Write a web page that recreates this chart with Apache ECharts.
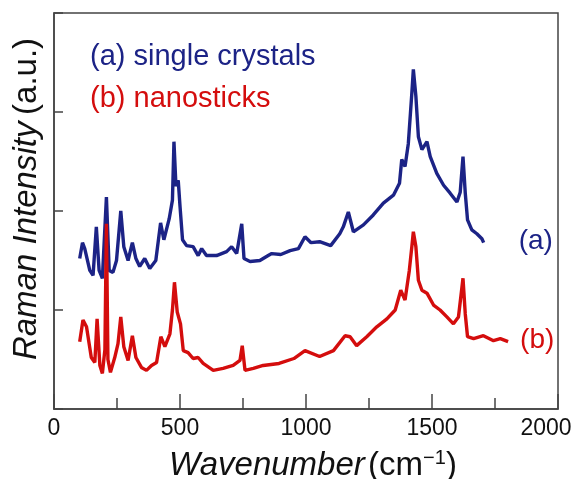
<!DOCTYPE html>
<html>
<head>
<meta charset="utf-8">
<script src="https://cdn.jsdelivr.net/npm/echarts@6/dist/echarts.min.js"></script>
<style>
html, body { margin: 0; padding: 0; background: #fff; }
#chart { width: 576px; height: 479px; }
</style>
</head>
<body>
<div id="chart"></div>
<script>
// (a) single crystals
var waveA = [102, 113, 122, 142, 155, 168, 179, 192, 208, 219, 234, 248, 265, 277, 294, 311, 325, 340, 360, 380,
    404, 423, 436, 457, 470, 476, 484, 493, 500, 510, 526, 552, 572, 586, 605, 645, 685, 705, 725, 745,
    754, 778, 817, 850, 864, 900, 937, 970, 996, 1020, 1054, 1098, 1134, 1148, 1168, 1188, 1228, 1267, 1307, 1347,
    1371, 1380, 1393, 1406, 1420, 1426, 1436, 1446, 1460, 1480, 1493, 1519, 1546, 1572, 1599, 1612, 1623, 1632, 1641, 1658,
    1678, 1698, 1705];
var intA = [1.52, 1.68, 1.62, 1.40, 1.35, 1.84, 1.40, 1.32, 2.14, 1.40, 1.38, 1.50, 2.00, 1.64, 1.50, 1.68, 1.52, 1.44, 1.52, 1.42,
    1.50, 1.88, 1.71, 1.92, 2.11, 2.70, 2.25, 2.31, 2.05, 1.71, 1.65, 1.64, 1.55, 1.62, 1.55, 1.55, 1.59, 1.64, 1.57, 1.87,
    1.52, 1.49, 1.50, 1.55, 1.57, 1.56, 1.60, 1.62, 1.74, 1.68, 1.69, 1.65, 1.77, 1.84, 1.99, 1.79, 1.86, 1.96, 2.08, 2.16,
    2.28, 2.52, 2.45, 2.68, 3.19, 3.43, 3.16, 2.75, 2.62, 2.70, 2.55, 2.38, 2.26, 2.18, 2.09, 2.19, 2.55, 2.18, 1.91, 1.81,
    1.77, 1.72, 1.68];

// (b) nanosticks
var waveB = [102, 115, 129, 148, 162, 171, 182, 192, 202, 208, 214, 224, 241, 254, 265, 277, 294, 311, 325, 347,
    367, 387, 407, 424, 440, 460, 470, 478, 489, 502, 513, 532, 552, 572, 592, 632, 671, 711, 738, 747,
    758, 791, 830, 893, 952, 996, 1054, 1109, 1155, 1175, 1201, 1241, 1281, 1321, 1354, 1376, 1393, 1410, 1420, 1426,
    1436, 1446, 1460, 1480, 1506, 1532, 1559, 1585, 1605, 1623, 1632, 1641, 1665, 1704, 1744, 1771, 1802];
var intB = [0.68, 0.90, 0.83, 0.52, 0.47, 0.91, 0.44, 0.36, 0.60, 1.87, 0.50, 0.37, 0.52, 0.66, 0.93, 0.63, 0.49, 0.74, 0.52, 0.42,
    0.39, 0.44, 0.47, 0.73, 0.63, 0.76, 1.00, 1.28, 0.98, 0.86, 0.59, 0.57, 0.51, 0.52, 0.46, 0.39, 0.41, 0.44, 0.49, 0.64,
    0.39, 0.41, 0.44, 0.46, 0.51, 0.59, 0.53, 0.59, 0.74, 0.73, 0.64, 0.73, 0.83, 0.91, 1.00, 1.20, 1.10, 1.40, 1.64, 1.79,
    1.64, 1.30, 1.20, 1.17, 1.05, 1.00, 0.93, 0.86, 0.93, 1.32, 0.96, 0.73, 0.71, 0.74, 0.69, 0.71, 0.68];

var blue = '#1c2386';
var red = '#d40d0d';

function pairs(xs, ys) {
    var out = [];
    for (var i = 0; i < xs.length; i++) {
        out.push([xs[i], ys[i]]);
    }
    return out;
}

var chart = echarts.init(document.getElementById('chart'));
chart.setOption({
    animation: false,
    grid: {
        left: 54,
        right: 18,
        top: 13,
        bottom: 70,
        outerBoundsMode: 'none',
        show: true,
        borderColor: '#444',
        borderWidth: 1.5
    },
    graphic: [
        {
            type: 'text',
            left: 90,
            top: 42,
            style: { text: '(a) single crystals', fill: blue, font: '29px "Liberation Sans", Arial, sans-serif' }
        },
        {
            type: 'text',
            left: 90,
            top: 84,
            style: { text: '(b) nanosticks', fill: red, font: '29px "Liberation Sans", Arial, sans-serif' }
        }
    ],
    xAxis: {
        type: 'value',
        min: 0,
        max: 2000,
        interval: 500,
        name: '{i|Wavenumber} {n|(cm}{s|\u22121}{n|)}',
        nameLocation: 'middle',
        nameGap: 39,
        nameTextStyle: {
            padding: [0, 0, 0, 14],
            rich: {
                i: { fontSize: 33, fontStyle: 'italic', color: '#111', fontFamily: 'Liberation Sans', lineHeight: 36 },
                n: { fontSize: 33, color: '#111', fontFamily: 'Liberation Sans', lineHeight: 36 },
                s: { fontSize: 20, color: '#111', fontFamily: 'Liberation Sans', verticalAlign: 'top', lineHeight: 36 }
            }
        },
        axisLine: { lineStyle: { color: '#444', width: 1.5 } },
        axisTick: { inside: true, length: 15, lineStyle: { color: '#444', width: 1.5 } },
        minorTick: { show: true, splitNumber: 2, length: 11, lineStyle: { color: '#444', width: 1.5 } },
        axisLabel: {
            fontSize: 23,
            color: '#111',
            fontFamily: 'Liberation Sans',
            margin: 8,
            formatter: function (v) {
                return v === 2000 ? '{m|' + v + '}' : String(v);
            },
            rich: {
                m: { fontSize: 23, color: '#111', fontFamily: 'Liberation Sans', padding: [0, 24, 0, 0] }
            }
        },
        splitLine: { show: false }
    },
    yAxis: {
        type: 'value',
        min: 0,
        max: 4,
        interval: 1,
        name: '{i|Raman Intensity}  {n|(a.u.)}',
        nameLocation: 'middle',
        nameGap: 11,
        nameTextStyle: {
            padding: [0, 0, 0, 24],
            rich: {
                i: { fontSize: 33, fontStyle: 'italic', color: '#111', fontFamily: 'Liberation Sans' },
                n: { fontSize: 33, color: '#111', fontFamily: 'Liberation Sans' }
            }
        },
        axisLine: { lineStyle: { color: '#444', width: 1.5 } },
        axisTick: { inside: true, length: 9, lineStyle: { color: '#444', width: 1.5 } },
        axisLabel: { show: false },
        splitLine: { show: false }
    },
    series: [
        {
            name: '(a) single crystals',
            type: 'line',
            data: pairs(waveA, intA),
            symbol: 'none',
            lineStyle: { color: blue, width: 3.4 },
            itemStyle: { color: blue },
            endLabel: {
                show: true,
                formatter: '(a)',
                color: blue,
                fontSize: 28,
                fontFamily: 'Liberation Sans',
                offset: [27, -1]
            }
        },
        {
            name: '(b) nanosticks',
            type: 'line',
            data: pairs(waveB, intB),
            symbol: 'none',
            lineStyle: { color: red, width: 3.4 },
            itemStyle: { color: red },
            endLabel: {
                show: true,
                formatter: '(b)',
                color: red,
                fontSize: 28,
                fontFamily: 'Liberation Sans',
                offset: [4, -1]
            }
        }
    ]
});
</script>
</body>
</html>
